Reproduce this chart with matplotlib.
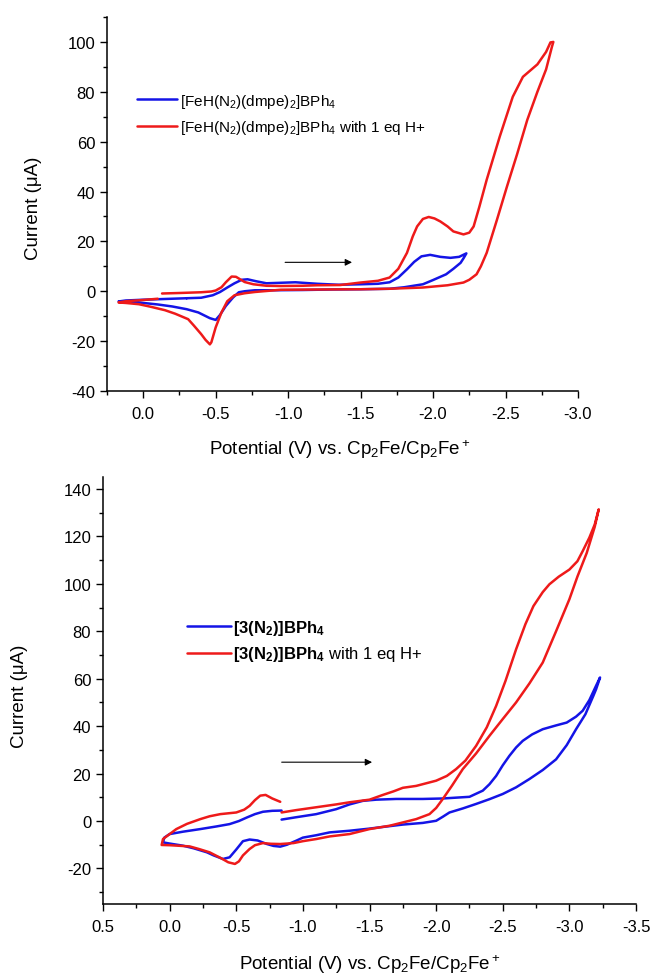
import matplotlib
matplotlib.use('Agg')
import matplotlib.pyplot as plt
from matplotlib.ticker import MultipleLocator

plt.rcParams['font.family'] = ['Liberation Sans', 'DejaVu Sans']
plt.rcParams['mathtext.fontset'] = 'custom'
plt.rcParams['mathtext.rm'] = 'Liberation Sans'
plt.rcParams['mathtext.it'] = 'Liberation Sans:italic'
plt.rcParams['mathtext.bf'] = 'Liberation Sans:bold'
plt.rcParams['axes.unicode_minus'] = False

# --- top panel: [FeH(N2)(dmpe)2]BPh4 ---
fe_blue_E = [-0.30, -0.40, -0.48, -0.53, -0.58, -0.63, -0.68, -0.72, -0.78, -0.85,
             -0.95, -1.05, -1.20, -1.35, -1.50, -1.62, -1.70, -1.76, -1.82, -1.87,
             -1.92, -1.98, -2.05, -2.12, -2.18, -2.23,
             -2.21, -2.19, -2.14, -2.09, -2.00, -1.93, -1.80, -1.70, -1.50, -1.30,
             -1.10, -0.90, -0.77, -0.70, -0.66, -0.62, -0.57, -0.53, -0.50, -0.46,
             -0.38, -0.30, -0.20, -0.10, 0.03, 0.12, 0.17,
             0.12, 0.00, -0.15, -0.30]
fe_blue_I = [-2.8, -2.6, -1.6, -0.3, 1.5, 3.2, 4.6, 4.8, 4.0, 3.2,
             3.4, 3.6, 3.0, 2.6, 2.8, 3.0, 3.6, 5.5, 8.8, 11.8,
             14.0, 14.6, 13.8, 13.4, 13.8, 15.2,
             13.2, 11.4, 9.0, 6.8, 4.5, 2.8, 1.6, 1.0, 0.8, 0.7,
             0.5, 0.4, 0.4, 0.0, -0.4, -2.5, -5.9, -9.5, -11.5, -10.8,
             -8.5, -7.2, -6.1, -5.3, -4.5, -4.2, -4.1,
             -3.7, -3.4, -3.1, -2.8]

fe_red_E = [-0.13, -0.25, -0.40, -0.47, -0.50, -0.54, -0.57, -0.61, -0.64, -0.70,
            -0.76, -0.85, -0.95, -1.10, -1.20, -1.36, -1.50, -1.62, -1.70, -1.76,
            -1.82, -1.86, -1.89, -1.93, -1.97, -2.01, -2.05, -2.10, -2.14, -2.21,
            -2.25, -2.28, -2.32, -2.37, -2.46, -2.55, -2.62, -2.72, -2.78, -2.81, -2.83,
            -2.82, -2.78, -2.72, -2.65, -2.58, -2.51, -2.44, -2.37, -2.33, -2.30,
            -2.25, -2.21, -2.10, -1.93, -1.70, -1.50, -1.20, -0.95, -0.77, -0.70,
            -0.63, -0.58, -0.54, -0.50, -0.47, -0.46, -0.43, -0.40, -0.35, -0.31,
            -0.22, -0.15, -0.05, 0.03, 0.12, 0.17,
            0.12, 0.00, -0.10]
fe_red_I = [-0.9, -0.7, -0.4, -0.1, 0.3, 1.6, 3.6, 5.9, 5.8, 3.7,
            2.8, 2.2, 2.1, 2.2, 2.4, 2.5, 3.5, 4.2, 5.5, 9.0,
            15.4, 22.0, 26.0, 29.0, 29.8, 29.2, 28.0, 26.0, 24.0, 22.8,
            23.5, 26.0, 34.0, 44.7, 62.0, 78.0, 86.0, 91.0, 96.0, 99.8, 100.0,
            98.0, 89.0, 80.0, 68.7, 55.0, 42.0, 28.5, 15.4, 10.0, 6.8,
            4.6, 3.5, 2.4, 1.5, 1.0, 0.8, 0.7, 0.6, -0.3, -0.8,
            -1.6, -4.0, -8.5, -14.5, -20.5, -21.3, -19.5, -17.2, -13.8, -11.2,
            -9.0, -7.6, -6.2, -5.2, -4.7, -4.5,
            -4.0, -3.5, -3.0]

# --- bottom panel: [3(N2)]BPh4 ---
n3_blue_E = [-0.84, -0.95, -1.10, -1.25, -1.35, -1.45, -1.55, -1.70, -1.90, -2.05,
             -2.25, -2.35, -2.40, -2.45, -2.50, -2.55, -2.60, -2.65, -2.72, -2.80,
             -2.90, -2.98, -3.05, -3.10, -3.15, -3.20, -3.23,
             -3.20, -3.18, -3.12, -3.05, -2.98, -2.90, -2.80, -2.70, -2.60, -2.50,
             -2.40, -2.30, -2.20, -2.10, -2.05, -2.00, -1.90, -1.75, -1.60, -1.50,
             -1.35, -1.20, -1.10, -1.00, -0.95, -0.88, -0.83, -0.78, -0.73, -0.66,
             -0.60, -0.55, -0.50, -0.45, -0.40, -0.33, -0.28, -0.18, -0.10, 0.00, 0.05,
             0.04, 0.00, -0.10, -0.23, -0.35, -0.45, -0.52, -0.58, -0.64, -0.70,
             -0.77, -0.84]
n3_blue_I = [0.6, 1.6, 2.9, 5.0, 7.0, 8.5, 9.0, 9.3, 9.3, 9.5,
             10.2, 12.8, 15.5, 19.0, 23.5, 27.5, 31.0, 33.8, 36.5, 38.7,
             40.3, 41.5, 44.0, 46.5, 51.0, 57.0, 60.5,
             55.5, 52.8, 45.0, 38.7, 32.0, 26.0, 21.5, 17.7, 14.2, 11.4,
             9.2, 7.2, 5.3, 3.6, 1.8, 0.1, -0.8, -1.5, -2.5, -3.2,
             -4.1, -4.8, -6.0, -7.0, -8.3, -10.0, -10.8, -10.5, -9.7, -8.2,
             -7.8, -8.5, -12.0, -15.3, -16.0, -14.5, -13.2, -11.5, -10.4, -9.5, -9.0,
             -7.0, -5.5, -4.5, -3.4, -2.3, -1.3, 0.0, 1.5, 2.9, 3.9,
             4.3, 4.4]

n3_red_E = [-0.84, -0.95, -1.10, -1.25, -1.35, -1.50, -1.60, -1.68, -1.75, -1.85,
            -2.00, -2.08, -2.15, -2.22, -2.30, -2.38, -2.45, -2.52, -2.60, -2.67,
            -2.73, -2.80, -2.85, -2.92, -3.00, -3.06, -3.10, -3.15, -3.19, -3.22,
            -3.19, -3.13, -3.06, -3.00, -2.90, -2.80, -2.70, -2.60, -2.50, -2.40,
            -2.30, -2.20, -2.12, -2.05, -2.00, -1.95, -1.85, -1.75, -1.65, -1.50,
            -1.35, -1.20, -1.10, -1.00, -0.93, -0.83, -0.76, -0.70, -0.64, -0.60,
            -0.55, -0.52, -0.49, -0.44, -0.38, -0.30, -0.22, -0.15, 0.00, 0.06,
            0.05, 0.00, -0.05, -0.13, -0.23, -0.30, -0.38, -0.50, -0.56, -0.60,
            -0.64, -0.68, -0.72, -0.77, -0.83]
n3_red_I = [3.6, 4.6, 5.8, 7.0, 7.9, 9.0, 11.0, 12.5, 14.0, 14.8,
            17.0, 19.0, 21.9, 25.5, 31.7, 39.5, 48.5, 59.0, 72.4, 83.0,
            90.6, 96.5, 99.8, 103.0, 106.0, 109.5, 113.8, 119.5, 125.0, 131.4,
            124.0, 113.0, 103.0, 93.5, 80.0, 66.8, 58.0, 50.0, 43.0, 35.9,
            28.5, 21.9, 15.0, 9.3, 5.5, 2.9, 0.8, -0.6, -2.0, -3.4,
            -5.5, -6.5, -7.6, -8.5, -9.3, -9.7, -9.6, -9.3, -10.2, -11.8,
            -14.5, -17.0, -18.1, -17.4, -15.5, -13.2, -11.8, -10.7, -10.2, -10.1,
            -7.6, -5.5, -3.4, -1.2, 0.8, 2.0, 2.9, 3.6, 4.8, 6.4,
            8.8, 10.7, 11.0, 9.5, 8.1]

blue = '#1414e6'
red = '#ee1a1a'

fig = plt.figure(figsize=(6.5, 9.78), dpi=100)
ax1 = fig.add_axes([0.1646, 0.5992, 0.7246, 0.3824])
ax2 = fig.add_axes([0.1585, 0.0746, 0.8200, 0.4366])

line_kw = dict(lw=1.8, solid_joinstyle='round', solid_capstyle='round')

ax1.plot(fe_blue_E, fe_blue_I, color=blue, label=r'[FeH(N$_2$)(dmpe)$_2$]BPh$_4$', **line_kw)
ax1.plot(fe_red_E, fe_red_I, color=red,
         label=r'[FeH(N$_2$)(dmpe)$_2$]BPh$_4$ with 1 eq H+', **line_kw)
ax1.set_xlim(0.25, -3.0)
ax1.set_ylim(-40, 110)
ax1.xaxis.set_major_locator(MultipleLocator(0.5))
ax1.xaxis.set_minor_locator(MultipleLocator(0.25))
ax1.set_yticks(range(-40, 101, 20))
ax1.yaxis.set_minor_locator(MultipleLocator(10))
ax1.annotate('', xy=(-1.46, 11.6), xytext=(-0.96, 11.6),
             arrowprops=dict(arrowstyle='-|>', color='black', lw=0.8, mutation_scale=10))
ax1.legend(loc='upper left', bbox_to_anchor=(0.064, 0.80), frameon=False,
           fontsize=11, handlelength=2.6, handletextpad=0.2, labelspacing=0.55,
           borderpad=0, borderaxespad=0)

ax2.plot(n3_blue_E, n3_blue_I, color=blue, label=r'$\mathbf{[3(N_2)]BPh_4}$', **line_kw)
ax2.plot(n3_red_E, n3_red_I, color=red,
         label=r'$\mathbf{[3(N_2)]BPh_4}$ with 1 eq H+', **line_kw)
ax2.set_xlim(0.5, -3.5)
ax2.set_ylim(-35, 145)
ax2.xaxis.set_major_locator(MultipleLocator(0.5))
ax2.xaxis.set_minor_locator(MultipleLocator(0.25))
ax2.set_yticks(range(-20, 141, 20))
ax2.yaxis.set_minor_locator(MultipleLocator(10))
ax2.annotate('', xy=(-1.54, 24.8), xytext=(-0.82, 24.8),
             arrowprops=dict(arrowstyle='-|>', color='black', lw=0.8, mutation_scale=10))
ax2.legend(loc='upper left', bbox_to_anchor=(0.158, 0.67), frameon=False,
           fontsize=12, handlelength=2.6, handletextpad=0.15, labelspacing=0.45,
           borderpad=0, borderaxespad=0)

for ax in (ax1, ax2):
    ax.spines['top'].set_visible(False)
    ax.spines['right'].set_visible(False)
    ax.spines['left'].set_linewidth(1.1)
    ax.spines['bottom'].set_linewidth(1.1)
    ax.tick_params(which='major', direction='out', length=5, width=1, labelsize=12)
    ax.tick_params(which='minor', direction='out', length=3, width=1)
    ax.tick_params(axis='x', which='major', pad=5.5)
    ax.set_ylabel('Current (μA)', fontsize=13.5)
    ax.set_xlabel(r'Potential (V) vs. Cp$_2$Fe/Cp$_2$Fe$^+$', fontsize=13.5)

ax1.yaxis.set_label_coords(-0.138, 0.49)
ax1.xaxis.set_label_coords(0.495, -0.124)
ax2.yaxis.set_label_coords(-0.141, 0.49)
ax2.xaxis.set_label_coords(0.50, -0.113)

fig.savefig('out.png', dpi=100)
